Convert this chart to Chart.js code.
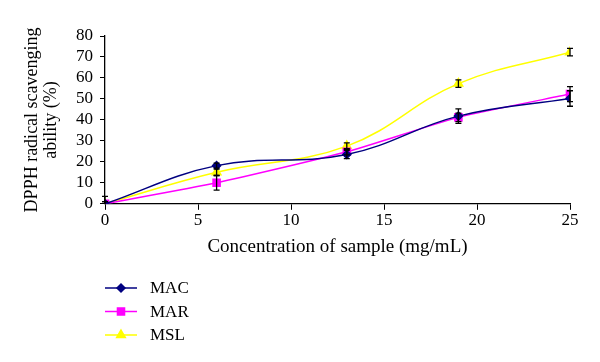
<!DOCTYPE html>
<html>
<head>
<meta charset="utf-8">
<script src="https://cdn.jsdelivr.net/npm/chart.js@4"></script>
<style>
  html, body { margin: 0; padding: 0; background: #fff; }
  #wrap { width: 600px; height: 362px; position: relative; }
</style>
</head>
<body>
<div id="wrap"><canvas id="chart"></canvas></div>
<script>
// ── Data ─────────────────────────────────────────────────────
const concentrations = [0, 6, 13, 19, 25];

const macValues = [0, 18.2, 23.5, 41.8, 50.2];
const macErrors = [3.5, 1.2, 2.0, 3.5, 3.7];

const marValues = [0, 10.0, 24.8, 41.2, 52.3];
const marErrors = [1.0, 3.5, 1.5, 2.0, 3.6];

const mslValues = [0, 15.0, 27.5, 57.3, 72.3];
const mslErrors = [1.0, 1.5, 1.5, 1.8, 1.8];

const xTicks = [0, 5, 10, 15, 20, 25];
const yTicks = [0, 10, 20, 30, 40, 50, 60, 70, 80];

const FONT = 'Liberation Serif, Times New Roman, serif';

const toPoints = vals => vals.map((v, i) => ({ x: concentrations[i], y: v }));

// ── Error bars ───────────────────────────────────────────────
const errorBarPlugin = {
  id: 'errorBars',
  afterDatasetsDraw(chart) {
    const { ctx } = chart;
    const yScale = chart.scales.y;
    ctx.save();
    ctx.strokeStyle = '#000';
    ctx.lineWidth = 1.3;
    chart.data.datasets.forEach((ds, di) => {
      const meta = chart.getDatasetMeta(di);
      ds.errors.forEach((err, i) => {
        const el = meta.data[i];
        const v = ds.data[i].y;
        const top = yScale.getPixelForValue(v + err);
        const bot = yScale.getPixelForValue(Math.max(v - err, 0));
        ctx.beginPath();
        ctx.moveTo(el.x, top);
        ctx.lineTo(el.x, bot);
        ctx.moveTo(el.x - 3, top);
        ctx.lineTo(el.x + 3, top);
        if (v - err > 0) {
          ctx.moveTo(el.x - 3, bot);
          ctx.lineTo(el.x + 3, bot);
        }
        ctx.stroke();
      });
    });
    ctx.restore();
  }
};

// ── Legend (stacked, below the chart) ────────────────────────
const stackedLegend = {
  id: 'stackedLegend',
  afterDraw(chart) {
    const { ctx } = chart;
    const left = chart.chartArea.left;
    ctx.save();
    ctx.font = '17px ' + FONT;
    ctx.textBaseline = 'middle';
    chart.data.datasets.forEach((ds, i) => {
      const y = 288 + i * 23.5;
      ctx.strokeStyle = ds.borderColor;
      ctx.fillStyle = ds.borderColor;
      ctx.lineWidth = 1.5;
      ctx.beginPath();
      ctx.moveTo(left, y);
      ctx.lineTo(left + 32, y);
      ctx.stroke();
      Chart.helpers.drawPoint(ctx, {
        pointStyle: ds.pointStyle,
        radius: ds.pointRadius,
        borderWidth: 1
      }, left + 16, y);
      ctx.fillStyle = '#000';
      ctx.fillText(ds.label, left + 45, y + 1);
    });
    ctx.restore();
  }
};

function makeDataset(label, color, style, radius, values, errors, tension) {
  return {
    label,
    data: toPoints(values),
    errors,
    borderColor: color,
    backgroundColor: color,
    pointBackgroundColor: color,
    pointBorderColor: color,
    pointStyle: style,
    pointRadius: radius,
    borderWidth: 1.5,
    tension,
    fill: false
  };
}

new Chart(document.getElementById('chart'), {
  type: 'line',
  data: {
    datasets: [
      makeDataset('MAC', '#000080', 'rectRot', 4, macValues, macErrors, 0.4),
      makeDataset('MAR', '#ff00ff', 'rect', 5, marValues, marErrors, 0.2),
      makeDataset('MSL', '#ffff00', 'triangle', 5, mslValues, mslErrors, 0.4)
    ]
  },
  options: {
    responsive: true,
    maintainAspectRatio: false,
    animation: false,
    layout: { padding: { left: 18, right: 30, top: 36, bottom: 100 } },
    plugins: {
      legend: { display: false },
      tooltip: { enabled: false }
    },
    scales: {
      x: {
        type: 'linear',
        min: 0,
        max: 25,
        afterBuildTicks: s => { s.ticks = xTicks.map(v => ({ value: v })); },
        border: { color: '#000', width: 1.3 },
        grid: { drawOnChartArea: false, tickLength: 6, color: '#000' },
        ticks: { color: '#000', font: { family: FONT, size: 17 }, padding: 1, autoSkip: false, maxRotation: 0 },
        title: {
          display: true,
          text: 'Concentration of sample (mg/mL)',
          color: '#000',
          font: { family: FONT, size: 19 },
          padding: { top: 3 }
        }
      },
      y: {
        min: 0,
        max: 80,
        afterBuildTicks: s => { s.ticks = yTicks.map(v => ({ value: v })); },
        border: { color: '#000', width: 1.3 },
        grid: { drawOnChartArea: false, tickLength: 5, color: '#000' },
        ticks: { color: '#000', font: { family: FONT, size: 17 }, padding: 7, autoSkip: false },
        title: {
          display: true,
          text: ['DPPH radical scavenging', 'ability (%)'],
          color: '#000',
          font: { family: FONT, size: 18, lineHeight: 1.1 },
          padding: { bottom: 4 }
        },
        afterFit: s => { s.width = 87; }
      }
    }
  },
  plugins: [errorBarPlugin, stackedLegend]
});
</script>
</body>
</html>
